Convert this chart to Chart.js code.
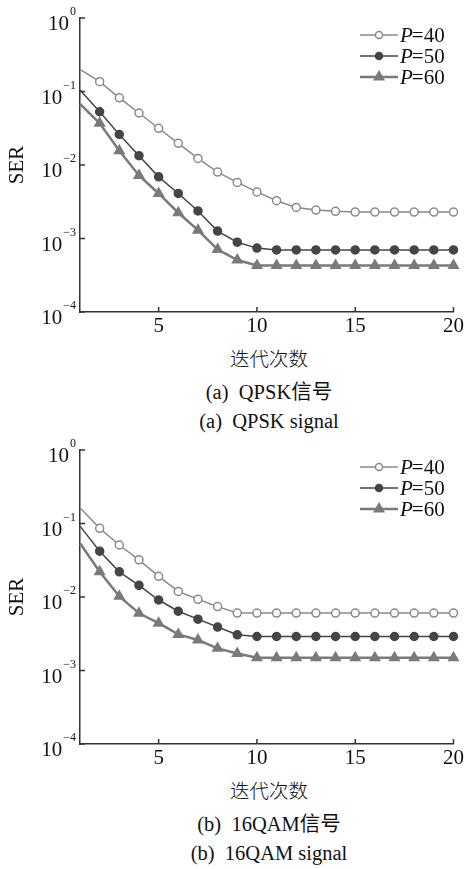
<!DOCTYPE html>
<html>
<head>
<meta charset="utf-8">
<script src="https://cdn.jsdelivr.net/npm/chart.js@4.4.1/dist/chart.umd.min.js"></script>
<style>
  body { margin: 0; background: #fff; width: 466px; height: 869px; position: relative; overflow: hidden; }
  .box { position: absolute; left: 0; width: 466px; height: 340px; }
  .cap { position: absolute; left: 0; width: 538px; text-align: center; color: #111;
         font-family: "Liberation Serif", "Noto Sans CJK SC", serif; font-size: 20.5px; line-height: 22px; white-space: pre; }
  .cap.cn { font-size: 19.5px; font-weight: 300; }
</style>
</head>
<body>
<div class="box" style="top:0"><canvas id="qpskChart" width="466" height="340"></canvas></div>
<div class="cap cn" style="top:349px">迭代次数</div>
<div class="cap" style="top:381px">(a)  QPSK信号</div>
<div class="cap" style="top:410px">(a)  QPSK signal</div>

<div class="box" style="top:432px"><canvas id="qamChart" width="466" height="340"></canvas></div>
<div class="cap cn" style="top:781px">迭代次数</div>
<div class="cap" style="top:813px">(b)  16QAM信号</div>
<div class="cap" style="top:842px">(b)  16QAM signal</div>

<script>
const iterations = [1, 2, 3, 4, 5, 6, 7, 8, 9, 10, 11, 12, 13, 14, 15, 16, 17, 18, 19, 20];
const seriesLabels = ['40', '50', '60'];
const yTicks = [1, 0.1, 0.01, 0.001, 0.0001];
const xTicks = [5, 10, 15, 20];

// (a) QPSK
const qpsk40 = [0.20, 0.136, 0.082, 0.051, 0.0316, 0.0197, 0.0123, 0.0080, 0.0058, 0.0043,
  0.00327, 0.00265, 0.00244, 0.00234, 0.00229, 0.00229, 0.00229, 0.00229, 0.00229, 0.00229];
const qpsk50 = [0.105, 0.053, 0.026, 0.0134, 0.0069, 0.0041, 0.00237, 0.00126, 0.00089, 0.00074,
  0.00070, 0.00070, 0.00070, 0.00070, 0.00070, 0.00070, 0.00070, 0.00070, 0.00070, 0.00070];
const qpsk60 = [0.068, 0.037, 0.0156, 0.0072, 0.0041, 0.00224, 0.0013, 0.00071, 0.00051, 0.00043,
  0.00043, 0.00043, 0.00043, 0.00043, 0.00043, 0.00043, 0.00043, 0.00043, 0.00043, 0.00043];

// (b) 16QAM
const qam40 = [0.164, 0.086, 0.051, 0.032, 0.0191, 0.0119, 0.0093, 0.0074, 0.00605, 0.00605,
  0.00605, 0.00605, 0.00605, 0.00605, 0.00605, 0.00605, 0.00605, 0.00605, 0.00605, 0.00605];
const qam50 = [0.092, 0.042, 0.022, 0.0144, 0.0091, 0.0064, 0.0050, 0.0039, 0.00306, 0.0029,
  0.0029, 0.0029, 0.0029, 0.0029, 0.0029, 0.0029, 0.0029, 0.0029, 0.0029, 0.0029];
const qam60 = [0.054, 0.022, 0.0102, 0.0060, 0.0044, 0.0031, 0.0026, 0.0020, 0.0017, 0.00149,
  0.00149, 0.00149, 0.00149, 0.00149, 0.00149, 0.00149, 0.00149, 0.00149, 0.00149, 0.00149];

const serif = '"Liberation Serif", "Times New Roman", serif';
const styles = [
  { color: '#8a8a8a', width: 1.5, point: 'circle', radius: 4, fill: '#ffffff' },
  { color: '#454545', width: 1.5, point: 'circle', radius: 4, fill: '#454545' },
  { color: '#7a7a7a', width: 2.5, point: 'triangle', radius: 5.5, fill: '#7a7a7a' },
];

function toPoints(values) {
  return values.map((v, i) => ({ x: iterations[i], y: v }));
}

// inward ticks, superscript y labels and the line+marker legend
const paperPlugin = {
  id: 'paper',
  afterDraw(chart) {
    const ctx = chart.ctx;
    const area = chart.chartArea;
    const xs = chart.scales.x;
    const ys = chart.scales.y;
    ctx.save();
    ctx.strokeStyle = '#333';
    ctx.lineWidth = 1.5;
    ys.ticks.forEach((t) => {
      const y = ys.getPixelForValue(t.value);
      ctx.beginPath();
      ctx.moveTo(area.left, y);
      ctx.lineTo(area.left + 5, y);
      ctx.stroke();
      const exp = Math.round(Math.log10(t.value));
      const expText = exp === 0 ? '0' : '\u2212' + Math.abs(exp);
      ctx.fillStyle = '#111';
      ctx.font = '12px ' + serif;
      const ew = ctx.measureText(expText).width;
      ctx.textBaseline = 'alphabetic';
      ctx.textAlign = 'right';
      ctx.fillText(expText, 76, y - 3);
      ctx.font = '21px ' + serif;
      ctx.fillText('10', 76 - ew - 1, y + 12);
    });
    xs.ticks.forEach((t) => {
      const x = xs.getPixelForValue(t.value);
      ctx.beginPath();
      ctx.moveTo(x, area.bottom);
      ctx.lineTo(x, area.bottom - 5);
      ctx.stroke();
    });
    // legend
    chart.data.datasets.forEach((ds, i) => {
      const st = styles[i];
      const y = area.top + 17 + i * 21;
      ctx.strokeStyle = st.color;
      ctx.lineWidth = st.width;
      ctx.beginPath();
      ctx.moveTo(360, y);
      ctx.lineTo(398, y);
      ctx.stroke();
      ctx.fillStyle = st.fill;
      ctx.lineWidth = 1.5;
      ctx.beginPath();
      if (st.point === 'triangle') {
        const r = 5.5;
        ctx.moveTo(379, y - r);
        ctx.lineTo(379 + r * 0.87, y + r * 0.5);
        ctx.lineTo(379 - r * 0.87, y + r * 0.5);
        ctx.closePath();
      } else {
        ctx.arc(379, y, 3.5, 0, Math.PI * 2);
      }
      ctx.fill();
      ctx.stroke();
      ctx.fillStyle = '#111';
      ctx.textAlign = 'left';
      ctx.textBaseline = 'middle';
      ctx.font = 'italic 21px ' + serif;
      ctx.fillText('P', 400, y + 1);
      const pw = ctx.measureText('P').width;
      ctx.font = '21px ' + serif;
      ctx.fillText('=' + seriesLabels[i], 400 + pw - 1, y + 1);
    });
    ctx.restore();
  },
};

function makeChart(id, s40, s50, s60) {
  const datasets = [s40, s50, s60].map((values, i) => {
    const st = styles[i];
    return {
      label: 'P=' + seriesLabels[i],
      data: toPoints(values),
      borderColor: st.color,
      borderWidth: st.width,
      backgroundColor: st.fill,
      pointStyle: st.point,
      pointRadius: iterations.map((it) => (it === 1 ? 0 : st.radius)),
      pointBackgroundColor: st.fill,
      pointBorderColor: st.color,
      pointBorderWidth: 1.5,
      tension: 0,
      clip: false,
    };
  });

  const config = {
    type: 'line',
    data: { datasets: datasets },
    plugins: [paperPlugin],
    options: {
      responsive: false,
      animation: false,
      layout: { padding: { top: 18, right: 11, left: 0, bottom: 0 } },
      plugins: {
        legend: { display: false },
        tooltip: { enabled: false },
      },
      scales: {
        x: {
          type: 'linear',
          min: 1,
          max: 20,
          afterBuildTicks: (scale) => { scale.ticks = xTicks.map((v) => ({ value: v })); },
          afterFit: (scale) => { scale.height = 28; },
          grid: { display: false, drawTicks: false },
          border: { display: true, color: '#333', width: 1.5 },
          ticks: {
            color: '#111',
            font: { family: serif, size: 21 },
            padding: 2,
            maxRotation: 0,
          },
        },
        y: {
          type: 'logarithmic',
          min: 0.0001,
          max: 1,
          afterBuildTicks: (scale) => { scale.ticks = yTicks.map((v) => ({ value: v })); },
          afterFit: (scale) => { scale.width = 80; },
          grid: { display: false, drawTicks: false },
          border: { display: true, color: '#333', width: 1.5 },
          ticks: { display: false },
          title: {
            display: true,
            text: 'SER',
            color: '#111',
            font: { family: serif, size: 21 },
            padding: { top: 5, bottom: 0 },
          },
        },
      },
    },
  };

  const ctx = document.getElementById(id).getContext('2d');
  return new Chart(ctx, config);
}

const qpskChart = makeChart('qpskChart', qpsk40, qpsk50, qpsk60);
const qamChart = makeChart('qamChart', qam40, qam50, qam60);
</script>
</body>
</html>
